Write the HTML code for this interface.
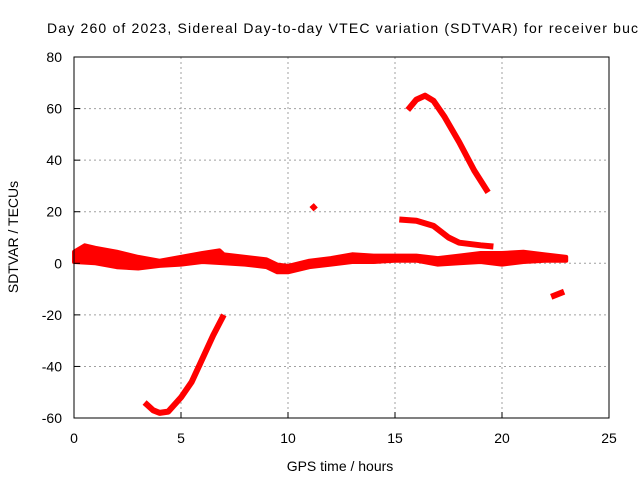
<!DOCTYPE html>
<html><head><meta charset="utf-8">
<style>
body{margin:0;background:#fff;width:640px;height:480px;overflow:hidden}
svg{font-family:"Liberation Sans",sans-serif}
</style></head><body>
<svg width="640" height="480" viewBox="0 0 640 480" id="svg">
<rect width="640" height="480" fill="#fff"/>
<text x="47" y="33" font-size="14" textLength="600" lengthAdjust="spacing" fill="#000">Day 260 of 2023, Sidereal Day-to-day VTEC variation (SDTVAR) for receiver bucu</text>
<g id="grid"></g>
<g id="series"></g>
<rect x="74" y="57" width="535" height="361" fill="none" stroke="#000" stroke-width="1"/>
<g id="ticks"></g>
<text x="340" y="471" font-size="14" text-anchor="middle">GPS time / hours</text>
<text x="18" y="237" font-size="14" text-anchor="middle" transform="rotate(-90 18 237)">SDTVAR / TECUs</text>
</svg>
<script>
const xTicks=[0,5,10,15,20,25];
const yTicks=[-60,-40,-20,0,20,40,60,80];
const bandUpper=[[0,4.5],[0.5,7],[1,6],[2,4.5],[3,2.5],[4,1],[5,2.5],[6,4],[6.8,5],[7,3.5],[8,2.5],[9,1.5],[9.5,-0.5],[10,-1],[10.5,0],[11,1],[12,2],[13,3.5],[14,3],[15,3],[16,3],[17,2],[18,3],[19,4],[20,4],[21,4.5],[22,3.5],[23,2.5]];
const bandLower=[[0,0.5],[1,0],[2,-1.5],[3,-2],[4,-1],[5,-0.5],[6,0.5],[7,0],[8,-0.5],[9,-1.5],[9.5,-3.5],[10,-3.5],[11,-1.5],[12,-0.5],[13,0.5],[14,0.5],[15,1],[16,1],[17,-0.5],[18,0],[19,0.5],[20,-0.5],[21,0.5],[22,1],[23,1]];
const dipSeries=[[3.3,-54],[3.7,-57],[4,-58],[4.4,-57.5],[5,-52],[5.5,-46],[6,-37],[6.5,-28],[7,-20]];
const arcSeries=[[15.6,59.5],[16,63.5],[16.4,65],[16.8,63],[17.3,57],[18,47],[18.7,36],[19.35,27.5]];
const midSeries=[[15.2,17],[16,16.5],[16.8,14.5],[17.5,10],[18,8],[19,7],[19.6,6.5]];
const blipSeries=[[11.1,21],[11.3,22.5]];
const tailSeries=[[22.3,-13],[22.9,-11]];
const X=v=>74+v*(535/25), Y=v=>263.3-v*(361/140);
const NS='http://www.w3.org/2000/svg';
function mk(t,a,p){const e=document.createElementNS(NS,t);for(const k in a)e.setAttribute(k,a[k]);p.appendChild(e);return e;}
const grid=document.getElementById('grid'),ticks=document.getElementById('ticks'),ser=document.getElementById('series');
xTicks.forEach(t=>{
 if(t>0&&t<25){const l=mk('line',{x1:X(t),x2:X(t),y1:57,y2:418,stroke:'#a0a0a0','stroke-dasharray':'2,3'},grid);
 }
 const tk=mk('line',{x1:X(t),x2:X(t),y1:418,y2:412,stroke:'#000'},ticks);
 
 const tx=mk('text',{x:X(t),y:443,'font-size':14,'text-anchor':'middle'},ticks);tx.textContent=t;
 
});
yTicks.forEach(t=>{
 if(t>-60&&t<80){const l=mk('line',{x1:74,x2:609,y1:Y(t),y2:Y(t),stroke:'#a0a0a0','stroke-dasharray':'2,3'},grid);
 }
 const tk=mk('line',{x1:74,x2:80,y1:Y(t),y2:Y(t),stroke:'#000'},ticks);
 
 const tx=mk('text',{x:62,y:Y(t)+5,'font-size':14,'text-anchor':'end'},ticks);tx.textContent=t;
 
});
const pts=a=>a.map(p=>X(p[0]).toFixed(1)+','+Y(p[1]).toFixed(1)).join(' ');
const band=mk('polygon',{points:pts(bandUpper.concat(bandLower.slice().reverse())),fill:'#ff0000',stroke:'#ff0000','stroke-width':4,'stroke-linejoin':'round'},ser);

[['dip-series',dipSeries],['arc-series',arcSeries],['mid-series',midSeries],['blip-series',blipSeries],['tail-series',tailSeries]].forEach(([n,d])=>{
 const p=mk('polyline',{points:pts(d),fill:'none',stroke:'#ff0000','stroke-width':6,'stroke-linejoin':'round'},ser);
 
});
</script>
</body></html>
